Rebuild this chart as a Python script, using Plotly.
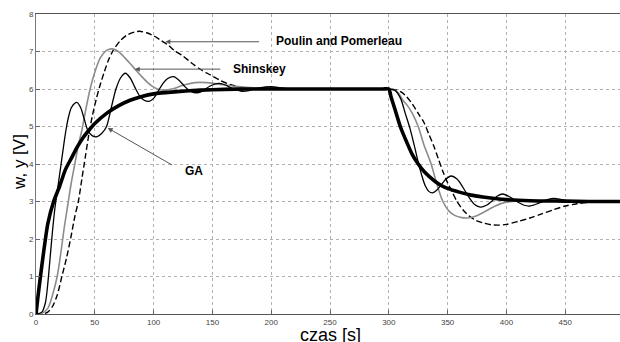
import plotly.graph_objects as go

# Reference trajectory (thick black)
t_ref = [0, 2, 5, 10, 15, 20, 25, 30, 35, 40, 45, 50, 60, 70, 80, 90, 100, 120, 140, 160, 180, 200, 230, 260,
         280, 295, 300,
         302, 305, 310, 315, 320, 325, 330, 335, 340, 345, 350, 360, 370, 380, 390, 400, 420, 450, 470, 497]
y_ref = [0, 0.55, 1.3, 2.4, 3.0, 3.4, 3.85, 4.15, 4.45, 4.7, 4.9, 5.08, 5.35, 5.55, 5.7, 5.8, 5.87, 5.93, 5.97,
         5.99, 6.0, 6.0, 6.0, 6.0, 6.0, 6.0, 6.0,
         5.78, 5.48, 4.98, 4.6, 4.25, 4.0, 3.8, 3.65, 3.52, 3.42, 3.35, 3.25, 3.17, 3.12, 3.08, 3.05, 3.02,
         3.01, 3.0, 3.0]

# GA (thin black)
t_ga = [0, 5, 8, 10, 12, 14, 16, 18, 20, 22, 24, 26, 28, 30, 33, 35, 38, 41, 44, 48, 52, 56, 60, 64, 68, 72, 76,
        80, 84, 88, 92, 96, 100, 104, 108, 112, 117, 122, 127, 132, 137, 142, 148, 155, 160, 168, 175, 180, 190,
        200, 210, 220, 240, 260, 280, 295, 300,
        305, 310, 314, 318, 322, 325, 328, 331, 334, 337, 340, 344, 348, 353, 358, 363, 368, 373, 378, 383, 388,
        392, 397, 403, 410, 415, 420, 427, 433, 440, 447, 455, 462, 470, 480, 497]
y_ga = [0, 0.05, 0.3, 0.8, 1.5, 2.2, 2.8, 3.25, 3.7, 4.15, 4.6, 5.0, 5.3, 5.5, 5.62, 5.64, 5.5, 5.2, 4.9, 4.75, 4.73,
        4.82, 5.0, 5.5, 6.0, 6.3, 6.42, 6.3, 6.05, 5.82, 5.7, 5.67, 5.75, 5.95, 6.15, 6.28, 6.33, 6.22, 6.05, 5.93,
        5.9, 5.95, 6.08, 6.15, 6.12, 6.0, 5.94, 5.95, 6.03, 6.06, 6.02, 5.99, 6.0, 6.0, 6.0, 6.0, 6.0,
        5.97, 5.75, 5.35, 4.95, 4.45, 4.05, 3.7, 3.42, 3.27, 3.23, 3.28, 3.42, 3.58, 3.68, 3.6, 3.38, 3.12, 2.92,
        2.85, 2.9, 3.02, 3.14, 3.2, 3.12, 2.98, 2.9, 2.88, 2.95, 3.03, 3.08, 3.05, 2.99, 2.97, 3.0, 3.02, 3.0]

# Shinskey (grey)
t_sh = [0, 5, 10, 14, 18, 21, 24, 27, 30, 33, 36, 39, 42, 46, 50, 55, 60, 65, 70, 75, 80, 85, 90, 95, 100, 105,
        110, 118, 125, 135, 145, 155, 170, 185, 200, 230, 260, 280, 295, 300,
        304, 308, 312, 316, 320, 325, 330, 336, 341, 346, 351, 356, 362, 367, 373, 380, 388, 396, 405, 415, 430,
        450, 470, 497]
y_sh = [0, 0.02, 0.15, 0.5, 1.0, 1.6, 2.3, 2.9, 3.5, 4.0, 4.5, 4.9, 5.4, 6.0, 6.45, 6.85, 7.03, 7.07, 7.0, 6.85,
        6.68, 6.5, 6.33, 6.17, 6.05, 5.98, 5.97, 6.02, 6.1, 6.17, 6.17, 6.13, 6.07, 6.03, 6.02, 6.0, 6.0, 6.0, 6.0,
        6.0,
        5.99, 5.9, 5.7, 5.55, 5.35, 5.0, 4.5, 4.0, 3.45, 3.0, 2.75, 2.63, 2.57, 2.56, 2.6, 2.7, 2.84, 2.95, 3.0,
        3.02, 3.02, 3.0, 3.0, 3.0]

# Poulin and Pomerleau (dashed)
t_pp = [0, 5, 10, 14, 18, 22, 26, 30, 33, 36, 39, 42, 45, 48, 51, 54, 58, 62, 66, 72, 78, 84, 88, 94, 100, 106,
        112, 118, 125, 132, 140, 148, 156, 165, 175, 190, 210, 240, 270, 290, 300,
        305, 310, 315, 320, 325, 330, 334, 338, 342, 346, 350, 354, 358, 363, 368, 374, 380, 387, 393, 400, 410,
        420, 430, 440, 450, 460, 470, 480, 497]
y_pp = [0, 0.0, 0.05, 0.2, 0.5, 1.0, 1.5, 2.1, 2.6, 3.0, 3.6, 4.2, 4.8, 5.3, 5.7, 6.05, 6.45, 6.8, 7.05, 7.3,
        7.45, 7.52, 7.54, 7.5, 7.42, 7.3, 7.18, 7.02, 6.88, 6.7, 6.52, 6.38, 6.24, 6.12, 6.05, 6.01, 6.0, 6.0, 6.0,
        6.0, 6.0,
        5.98, 5.93, 5.8, 5.6, 5.35, 5.1, 4.8, 4.5, 4.15, 3.8, 3.5, 3.25, 3.0, 2.78, 2.62, 2.5, 2.43, 2.38, 2.37,
        2.39, 2.47, 2.56, 2.67, 2.78, 2.88, 2.94, 2.98, 3.0, 3.0]

x_ticks = [0, 50, 100, 150, 200, 250, 300, 350, 400, 450]
y_ticks = [0, 1, 2, 3, 4, 5, 6, 7, 8]

fig = go.Figure()
fig.add_trace(go.Scatter(x=t_pp, y=y_pp, mode="lines", name="Poulin and Pomerleau",
                         line=dict(color="black", width=1.4, dash="6px,3px", shape="spline", smoothing=0.8)))
fig.add_trace(go.Scatter(x=t_sh, y=y_sh, mode="lines", name="Shinskey",
                         line=dict(color="#8c8c8c", width=1.6, shape="spline", smoothing=0.8)))
fig.add_trace(go.Scatter(x=t_ga, y=y_ga, mode="lines", name="GA",
                         line=dict(color="black", width=1.3, shape="spline", smoothing=0.8)))
fig.add_trace(go.Scatter(x=t_ref, y=y_ref, mode="lines", name="w",
                         line=dict(color="black", width=3.6, shape="spline", smoothing=0.6)))

tickfont = dict(family="Liberation Sans, Arial", size=8, color="#444")
fig.update_xaxes(range=[0, 496.6], tickvals=x_ticks, ticks="inside", ticklen=4, tickcolor="#666",
                 showgrid=True, gridcolor="#b0b0b0", griddash="dot", gridwidth=1, automargin=False,
                 showline=True, linecolor="#555", linewidth=1, mirror=True, zeroline=False,
                 tickfont=tickfont)
fig.update_yaxes(range=[0, 8], tickvals=y_ticks, ticks="inside", ticklen=4, tickcolor="#666",
                 showgrid=True, gridcolor="#b0b0b0", griddash="dot", gridwidth=1, automargin=False,
                 showline=True, linecolor="#777", linewidth=1, mirror=True, zeroline=False,
                 tickfont=tickfont)

lab = dict(family="Liberation Sans, Arial", size=12, color="black")
ann = [
    dict(x=110, y=7.26, ax=191, ay=7.26, axref="x", ayref="y", xref="x", yref="y", text="",
         showarrow=True, arrowhead=2, arrowsize=1, arrowwidth=1, arrowcolor="#555"),
    dict(x=202, y=7.28, xref="x", yref="y", text="<b>Poulin and Pomerleau</b>", showarrow=False,
         xanchor="left", yanchor="middle", font=lab),
    dict(x=84, y=6.53, ax=158, ay=6.53, axref="x", ayref="y", xref="x", yref="y", text="",
         showarrow=True, arrowhead=2, arrowsize=1, arrowwidth=1, arrowcolor="#555"),
    dict(x=166, y=6.53, xref="x", yref="y", text="<b>Shinskey</b>", showarrow=False,
         xanchor="left", yanchor="middle", font=lab),
    dict(x=61, y=4.96, ax=117, ay=3.95, axref="x", ayref="y", xref="x", yref="y", text="",
         showarrow=True, arrowhead=2, arrowsize=1, arrowwidth=1, arrowcolor="#555"),
    dict(x=125, y=3.81, xref="x", yref="y", text="<b>GA</b>", showarrow=False,
         xanchor="left", yanchor="middle", font=lab),
    dict(x=-16 / 584, y=0.507, xref="paper", yref="paper", text="w, y [V]", showarrow=False,
         textangle=-90, xanchor="center", yanchor="middle",
         font=dict(family="Liberation Sans, Arial", size=17, color="black")),
    dict(x=0.505, y=-21 / 300, xref="paper", yref="paper", text="czas [s]", showarrow=False,
         xanchor="center", yanchor="middle",
         font=dict(family="Liberation Sans, Arial", size=18, color="black")),
]

fig.update_layout(width=620, height=342, margin=dict(l=36, r=0, t=14, b=28, autoexpand=False),
                  paper_bgcolor="white", plot_bgcolor="white", showlegend=False,
                  annotations=ann)

fig.write_html("out.html", config={"displayModeBar": False},
               post_script="document.body.style.margin='0';document.body.style.overflow='hidden';")
